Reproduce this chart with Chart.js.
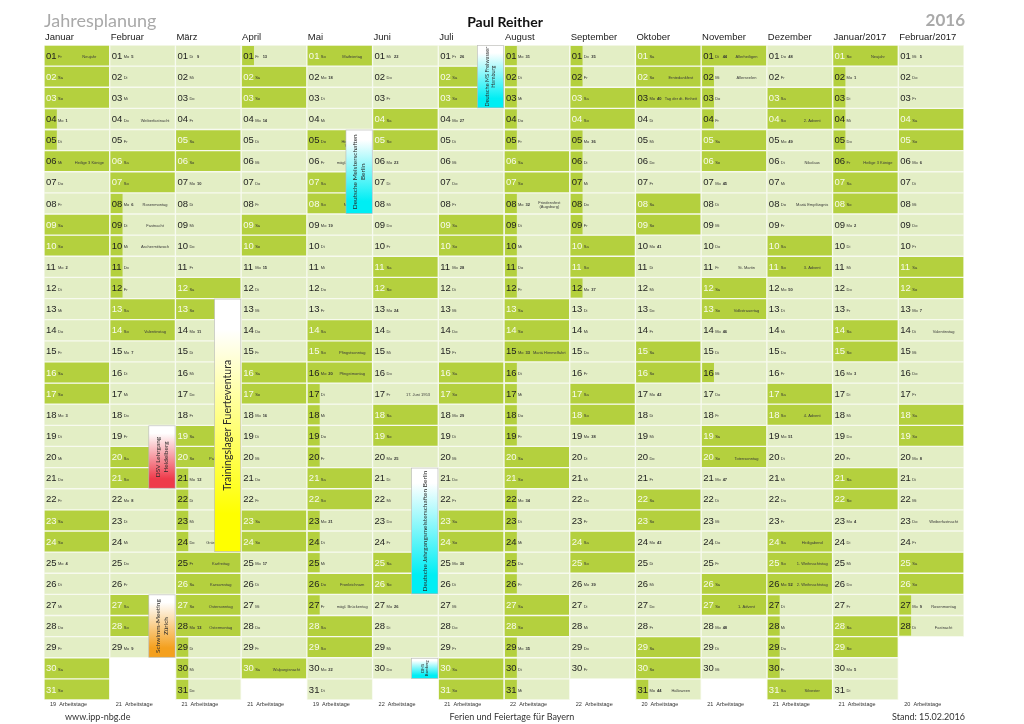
<!DOCTYPE html>
<html lang="de">
<head>
<meta charset="utf-8">
<title>Jahresplanung 2016</title>
<script src="https://cdn.jsdelivr.net/npm/chart.js@4.4.1/dist/chart.umd.min.js"></script>
<style>
  html, body { margin: 0; padding: 0; background: #fff; }
  #wrap { width: 1024px; height: 724px; }
</style>
</head>
<body>
<div id="wrap"><canvas id="planer" width="1024" height="724"></canvas></div>
<script>
// Spalten (Monate) und Zeilen (Tage)
const monate = ['Januar', 'Februar', 'März', 'April', 'Mai', 'Juni', 'Juli', 'August',
  'September', 'Oktober', 'November', 'Dezember', 'Januar/2017', 'Februar/2017'];
const monatJahr = [2016, 2016, 2016, 2016, 2016, 2016, 2016, 2016, 2016, 2016, 2016, 2016, 2017, 2017];
const monatNr = [0, 1, 2, 3, 4, 5, 6, 7, 8, 9, 10, 11, 0, 1];
const tageImMonat = [31, 29, 31, 30, 31, 30, 31, 31, 30, 31, 30, 31, 31, 28];
const tage = [1, 2, 3, 4, 5, 6, 7, 8, 9, 10, 11, 12, 13, 14, 15, 16, 17, 18, 19, 20,
  21, 22, 23, 24, 25, 26, 27, 28, 29, 30, 31];
const arbeitstage = [19, 21, 21, 21, 19, 22, 21, 22, 22, 20, 21, 21, 21, 20];
const wochentage = ['So', 'Mo', 'Di', 'Mi', 'Do', 'Fr', 'Sa'];

// gesetzliche Feiertage Bayern (werktags)
const feiertage = ['2016-01-01', '2016-01-06', '2016-03-25', '2016-03-28', '2016-05-05',
  '2016-05-16', '2016-05-26', '2016-08-15', '2016-10-03', '2016-11-01', '2016-12-26', '2017-01-06'];

// Schulferien (von, bis)
const ferienVon = ['2016-01-04', '2016-02-08', '2016-03-21', '2016-05-17', '2016-08-01',
  '2016-10-31', '2016-11-16', '2016-12-27', '2017-02-27'];
const ferienBis = ['2016-01-05', '2016-02-12', '2016-04-01', '2016-05-28', '2016-09-12',
  '2016-11-04', '2016-11-16', '2017-01-05', '2017-03-03'];

// Texte in den Tageszellen
const notizDatum = ['2016-01-01', '2016-01-06', '2016-02-04', '2016-02-08', '2016-02-09', '2016-02-10',
  '2016-02-14', '2016-03-20', '2016-03-24', '2016-03-25', '2016-03-26', '2016-03-27', '2016-03-28',
  '2016-04-30', '2016-05-01', '2016-05-05', '2016-05-06', '2016-05-08', '2016-05-15', '2016-05-16',
  '2016-05-26', '2016-05-27', '2016-06-17', '2016-08-08', '2016-08-15', '2016-10-02', '2016-10-03',
  '2016-10-31', '2016-11-01', '2016-11-02', '2016-11-11', '2016-11-13', '2016-11-20', '2016-11-27',
  '2016-12-04', '2016-12-06', '2016-12-08', '2016-12-11', '2016-12-18', '2016-12-24', '2016-12-25',
  '2016-12-26', '2016-12-31', '2017-01-01', '2017-01-06', '2017-02-14', '2017-02-23', '2017-02-27',
  '2017-02-28'];
const notizText = ['Neujahr', 'Heilige 3 Könige', 'Weiberfastnacht', 'Rosenmontag', 'Fastnacht',
  'Aschermittwoch', 'Valentinstag', 'Palmsonntag', 'Gründonnerstag', 'Karfreitag', 'Karsamstag',
  'Ostersonntag', 'Ostermontag', 'Walpurgisnacht', 'Maifeiertag', 'Christi\nHimmelfahrt\nVatertag',
  'mögl. Brückentag', 'Muttertag', 'Pfingstsonntag', 'Pfingstmontag', 'Fronleichnam',
  'mögl. Brückentag', '17. Juni 1953', 'Friedensfest\n(Augsburg)', 'Mariä Himmelfahrt',
  'Erntedankfest', 'Tag der dt. Einheit', 'Halloween', 'Allerheiligen', 'Allerseelen', 'St. Martin',
  'Volkstrauertag', 'Totensonntag', '1. Advent', '2. Advent', 'Nikolaus', 'Mariä Empfängnis',
  '3. Advent', '4. Advent', 'Heiligabend', '1. Weihnachtstag', '2. Weihnachtstag', 'Silvester',
  'Neujahr', 'Heilige 3 Könige', 'Valentinstag', 'Weiberfastnacht', 'Rosenmontag', 'Fastnacht'];

// Termine (Balken rechts in der Monatsspalte)
const terminMonat = [2, 1, 1, 4, 6, 5, 5];
const terminVon = [13, 19, 27, 5, 1, 21, 30];
const terminBis = [24, 21, 29, 8, 3, 26, 30];
const terminText = [['Trainingslager Fuerteventura'], ['DSV Lehrgang', 'Heidelberg'],
  ['Schwimm-Meeting', 'Zürich'], ['Deutsche Meisterschaften', 'Berlin'],
  ['Deutsche MS Freiwasser', 'Hamburg'], ['Deutsche Jahrgangsmeisterschaften Berlin'], ['DMS', 'Bamberg']];
const terminFarbe = ['#ffff00', '#ee3b4b', '#f4a01e', '#00eef4', '#00eef4', '#00eef4', '#00eef4'];
const terminSchrift = [10.5, 6.5, 6.5, 6.5, 5.5, 6.5, 4];

const DUNKEL = '#b4d03e';
const HELL = '#e3eec5';

function pad(n) { return String(n).padStart(2, '0'); }
function isoDatum(k, d) { return monatJahr[k] + '-' + pad(monatNr[k] + 1) + '-' + pad(d); }
function wochentag(k, d) { return new Date(monatJahr[k], monatNr[k], d).getDay(); }

function kalenderwoche(k, d) {
  const t = new Date(Date.UTC(monatJahr[k], monatNr[k], d));
  const wt = t.getUTCDay() || 7;
  t.setUTCDate(t.getUTCDate() + 4 - wt);
  const j = new Date(Date.UTC(t.getUTCFullYear(), 0, 1));
  return Math.ceil(((t - j) / 86400000 + 1) / 7);
}

// 'we' Wochenende, 'ft' Feiertag, 'fe' Ferien, '' normal
function zustand(k, d) {
  const wt = wochentag(k, d);
  if (wt === 0 || wt === 6) return 'we';
  const s = isoDatum(k, d);
  if (feiertage.includes(s)) return 'ft';
  for (let i = 0; i < ferienVon.length; i++) {
    if (s >= ferienVon[i] && s <= ferienBis[i]) return 'fe';
  }
  return '';
}

function spaltenBreite(x) { return x.getPixelForValue(1) - x.getPixelForValue(0); }

const datasets = tage.map(d => ({
  label: 'Tag ' + d,
  data: tageImMonat.map(n => (d <= n ? [d - 1, d] : null)),
  grouped: false,
  barPercentage: 1,
  categoryPercentage: 1,
  backgroundColor: ctx => {
    if (ctx.type !== 'data') return HELL;
    const z = zustand(ctx.dataIndex, d);
    return z === 'we' || z === 'ft' ? DUNKEL : HELL;
  },
  borderColor: '#f7faee',
  borderWidth: 1,
  borderSkipped: false
}));

const kalenderText = {
  id: 'kalenderText',
  afterDatasetsDraw(chart) {
    const c = chart.ctx;
    const x = chart.scales.x;
    const y = chart.scales.y;
    const w = spaltenBreite(x);
    c.save();
    c.textBaseline = 'middle';

    // Ferien: dunkler Block links in der Zelle (Geometrie vom Balken)
    tage.forEach((d, i) => {
      const meta = chart.getDatasetMeta(i);
      meta.data.forEach((bar, k) => {
        if (d > tageImMonat[k] || zustand(k, d) !== 'fe') return;
        const p = bar.getProps(['x', 'y', 'base', 'width'], true);
        const left = p.x - p.width / 2 + 1;
        const top = Math.min(p.y, p.base) + 1;
        c.fillStyle = DUNKEL;
        c.fillRect(left, top, p.width * 0.18, Math.abs(p.base - p.y) - 2);
      });
    });

    for (let k = 0; k < monate.length; k++) {
      const left = x.getPixelForValue(k) - w / 2;
      for (let d = 1; d <= tageImMonat[k]; d++) {
        const top = y.getPixelForValue(d - 1);
        const bot = y.getPixelForValue(d);
        const cy = (top + bot) / 2 + 0.5;
        const z = zustand(k, d);
        const wt = wochentag(k, d);

        c.textAlign = 'left';
        c.font = '9.5px "Liberation Sans", Arial, sans-serif';
        c.fillStyle = z === 'we' ? '#f7faec' : '#1e1e1e';
        c.fillText(pad(d), left + 2, cy);

        c.font = '4px "Liberation Sans", Arial, sans-serif';
        c.fillStyle = '#333';
        c.fillText(wochentage[wt], left + 14, cy + 1);

        const kw = kalenderwoche(k, d);
        if ((wt === 1 || (d === 1 && wt >= 1 && wt <= 5)) && kw < 53) {
          c.font = 'bold 4px "Liberation Sans", Arial, sans-serif';
          c.fillText(String(kw), left + 21.5, cy + 1);
        }

        const ni = notizDatum.indexOf(isoDatum(k, d));
        if (ni >= 0) {
          const zeilen = notizText[ni].split('\n');
          c.font = '4px "Liberation Sans", Arial, sans-serif';
          c.fillStyle = '#3a3a3a';
          c.textAlign = 'center';
          zeilen.forEach((t, j) => {
            const yy = cy + 1 + (j - (zeilen.length - 1) / 2) * 4.6;
            c.fillText(t, left + w * 0.69, yy, w * 0.5);
          });
        }
      }
      // Arbeitstage unter jeder Spalte
      c.textAlign = 'left';
      c.font = '5.5px "Liberation Sans", Arial, sans-serif';
      c.fillStyle = '#333';
      c.fillText(arbeitstage[k] + '  Arbeitstage', left + 6, y.bottom + 4.5);
    }

    // Termine
    for (let i = 0; i < terminMonat.length; i++) {
      const left = x.getPixelForValue(terminMonat[i]) - w / 2;
      const x0 = left + w * 0.595;
      const x1 = left + w * 0.995;
      const y0 = y.getPixelForValue(terminVon[i] - 1) + 0.5;
      const y1 = y.getPixelForValue(terminBis[i]) - 0.5;
      const g = c.createLinearGradient(0, y0, 0, y1);
      g.addColorStop(0, '#ffffff');
      g.addColorStop(0.12, '#ffffff');
      g.addColorStop(0.85, terminFarbe[i]);
      g.addColorStop(1, terminFarbe[i]);
      c.fillStyle = g;
      c.fillRect(x0, y0, x1 - x0, y1 - y0);
      c.strokeStyle = '#b8b8b8';
      c.lineWidth = 0.6;
      c.strokeRect(x0, y0, x1 - x0, y1 - y0);

      const zeilen = terminText[i];
      const fs = terminSchrift[i];
      c.save();
      c.translate((x0 + x1) / 2, (y0 + y1) / 2);
      c.rotate(-Math.PI / 2);
      c.textAlign = 'center';
      c.fillStyle = '#2a2a2a';
      c.font = fs + 'px Lato, "Open Sans", sans-serif';
      zeilen.forEach((t, j) => {
        c.fillText(t, 0, (j - (zeilen.length - 1) / 2) * fs * 1.15);
      });
      c.restore();
    }
    c.restore();
  },
  afterDraw(chart) {
    const c = chart.ctx;
    const a = chart.chartArea;
    c.save();
    c.textBaseline = 'middle';
    c.fillStyle = '#a9a9a9';
    c.font = '18px Lato, "Open Sans", sans-serif';
    c.textAlign = 'left';
    c.fillText('Jahresplanung', a.left, 21);
    c.font = 'bold 17px Lato, "Open Sans", sans-serif';
    c.textAlign = 'right';
    c.fillText('2016', a.right + 1, 21);
    c.fillStyle = '#111';
    c.font = 'bold 14px Lato, "Open Sans", sans-serif';
    c.textAlign = 'center';
    c.fillText('Paul Reither', 505, 22);

    c.fillStyle = '#333';
    c.font = '9px Lato, "Open Sans", sans-serif';
    c.textAlign = 'left';
    c.fillText('www.ipp-nbg.de', 65, 717);
    c.textAlign = 'center';
    c.fillText('Ferien und Feiertage für Bayern', 512, 717);
    c.textAlign = 'right';
    c.fillText('Stand: 15.02.2016', a.right + 1, 717);
    c.restore();
  }
};

new Chart(document.getElementById('planer'), {
  type: 'bar',
  data: { labels: monate, datasets: datasets },
  options: {
    responsive: false,
    animation: false,
    devicePixelRatio: 1,
    layout: { padding: { left: 44, right: 60, top: 31, bottom: 24 } },
    plugins: {
      legend: { display: false },
      tooltip: { enabled: false },
      title: { display: false }
    },
    scales: {
      x: {
        type: 'category',
        position: 'top',
        offset: true,
        grid: { display: false, drawTicks: false },
        border: { display: false },
        ticks: {
          align: 'start',
          labelOffset: -31.9,
          padding: 2,
          autoSkip: false,
          maxRotation: 0,
          color: '#1a1a1a',
          font: { family: '"Liberation Sans", Arial, sans-serif', size: 9.5 }
        },
        afterFit: s => { s.height = 14; }
      },
      y: {
        type: 'linear',
        reverse: true,
        min: 0,
        max: 31,
        display: false
      }
    }
  },
  plugins: [kalenderText]
});
</script>
</body>
</html>
